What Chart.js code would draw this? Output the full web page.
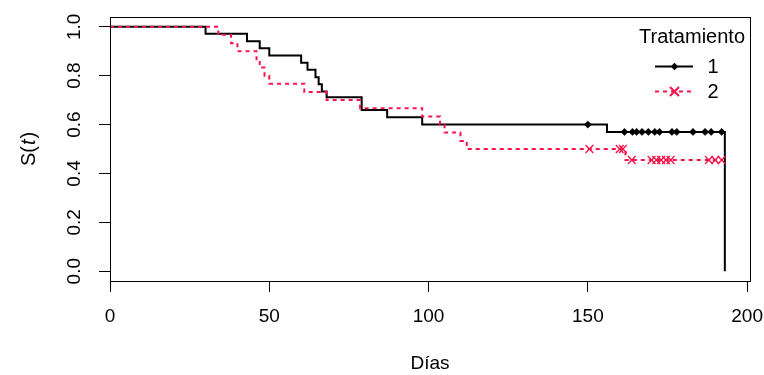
<!DOCTYPE html>
<html><head><meta charset="utf-8">
<script src="https://cdn.jsdelivr.net/npm/chart.js@4/dist/chart.umd.min.js"></script>
<style>html,body{margin:0;padding:0;background:#fff}#wrap{width:764px;height:375px;position:relative}</style>
</head><body><div id="wrap"><canvas id="c"></canvas></div>
<script>
// ---- data ----
const groupLabels = ['1', '2'];
const legendTitle = 'Tratamiento';
const xTitle = 'Días';
const yTitleMain = 'S(';
const yTitleItalic = 't';
const yTitleEnd = ')';
const xTicks = [0, 50, 100, 150, 200];
const yTicks = [0, 0.2, 0.4, 0.6, 0.8, 1.0];

// Treatment 1: event times and survival after each event
const times1 = [0, 30, 43, 47, 50, 60, 62, 64.5, 65.5, 66.5, 68, 79, 87, 98, 156, 193];
const surv1  = [1, 0.971, 0.941, 0.912, 0.882, 0.853, 0.824, 0.794, 0.765, 0.735, 0.712, 0.66, 0.63, 0.60, 0.57, 0];
const censor1 = [150, 161.5, 164, 165.3, 167, 169, 171, 172.5, 176.4, 177.9, 183, 186.8, 188.7, 192];

// Treatment 2
const times2 = [0, 34, 38, 40, 46, 47, 48.5, 50, 61, 68, 78.5, 98, 103.6, 105, 110, 112, 161.8];
const surv2  = [1, 0.967, 0.933, 0.9, 0.867, 0.833, 0.8, 0.767, 0.733, 0.7, 0.667, 0.633, 0.6, 0.567, 0.533, 0.5, 0.455];
const censor2 = [150.5, 160, 161, 163.8, 170, 171.5, 173, 174.5, 176, 188, 190, 192];
const lastTime2 = 192.5;

const colors = ['#000000', '#f8144a'];

// ---- helpers ----
function stepAt(times, surv, t) {
  let v = surv[0];
  for (let i = 0; i < times.length; i++) { if (times[i] <= t) v = surv[i]; }
  return v;
}
function stepPoints(times, surv, endT) {
  const pts = times.map((t, i) => ({x: t, y: surv[i]}));
  if (endT !== undefined) pts.push({x: endT, y: surv[surv.length - 1]});
  return pts;
}
function censorPoints(times, surv, cens) {
  return cens.map(t => ({x: t, y: stepAt(times, surv, t)}));
}

const FONT = "'Liberation Sans', Arial, Helvetica, sans-serif";

const boxPlugin = {
  id: 'boxAndText',
  afterDraw(chart) {
    const ctx = chart.ctx;
    const a = chart.chartArea;
    ctx.save();
    ctx.strokeStyle = '#000';
    ctx.lineWidth = 1;
    ctx.strokeRect(Math.round(a.left) + 0.5, Math.round(a.top) + 0.5, Math.round(a.right - a.left), Math.round(a.bottom - a.top));

    // y axis title S(t) with italic t
    const ys = chart.scales.y;
    const cy = (ys.getPixelForValue(ys.min) + ys.getPixelForValue(ys.max)) / 2;
    ctx.translate(29, cy);
    ctx.rotate(-Math.PI / 2);
    ctx.fillStyle = '#000';
    ctx.textBaseline = 'middle';
    const fN = '20px ' + FONT, fI = 'italic 20px ' + FONT;
    ctx.font = fN; const w1 = ctx.measureText(yTitleMain).width; const w3 = ctx.measureText(yTitleEnd).width;
    ctx.font = fI; const w2 = ctx.measureText(yTitleItalic).width + 2;
    let x0 = -(w1 + w2 + w3) / 2;
    ctx.textAlign = 'left';
    ctx.font = fN; ctx.fillText(yTitleMain, x0, 0);
    ctx.font = fI; ctx.fillText(yTitleItalic, x0 + w1 + 1, 0);
    ctx.font = fN; ctx.fillText(yTitleEnd, x0 + w1 + w2, 0);
    ctx.restore();

    // legend
    ctx.save();
    ctx.fillStyle = '#000';
    ctx.font = '20px ' + FONT;
    ctx.textAlign = 'right';
    ctx.textBaseline = 'middle';
    ctx.fillText(legendTitle, 745, 37);
    const rows = [66.5, 91.5];
    groupLabels.forEach((lab, i) => {
      const y = rows[i];
      ctx.strokeStyle = colors[i];
      ctx.lineWidth = 2;
      ctx.setLineDash(i === 0 ? [] : [4, 4]);
      ctx.beginPath(); ctx.moveTo(655, y); ctx.lineTo(693, y); ctx.stroke();
      ctx.setLineDash([]);
      const mx = 674.5;
      if (i === 0) {
        ctx.fillStyle = colors[0];
        ctx.beginPath(); ctx.moveTo(mx, y - 3.8); ctx.lineTo(mx + 3.8, y); ctx.lineTo(mx, y + 3.8); ctx.lineTo(mx - 3.8, y); ctx.closePath(); ctx.fill();
      } else {
        ctx.lineWidth = 2;
        const r = 4.5;
        ctx.beginPath(); ctx.moveTo(mx - r, y - r); ctx.lineTo(mx + r, y + r); ctx.moveTo(mx + r, y - r); ctx.lineTo(mx - r, y + r); ctx.stroke();
      }
      ctx.fillStyle = '#000';
      ctx.textAlign = 'center';
      ctx.fillText(lab, 713, y + 1);
    });
    ctx.restore();
  }
};

new Chart(document.getElementById('c'), {
  type: 'scatter',
  data: {
    datasets: [
      {label: groupLabels[0], data: stepPoints(times1, surv1), showLine: true, stepped: true,
       borderColor: colors[0], borderWidth: 2, pointRadius: 0, order: 3},
      {label: groupLabels[1], data: stepPoints(times2, surv2, lastTime2), showLine: true, stepped: true,
       borderColor: colors[1], borderWidth: 2, borderDash: [4, 4], pointRadius: 0, order: 2},
      {label: groupLabels[0] + ' censored', data: censorPoints(times1, surv1, censor1), showLine: false,
       pointStyle: 'rectRot', pointRadius: 3.6, backgroundColor: colors[0], borderColor: colors[0], borderWidth: 0.5, order: 1},
      {label: groupLabels[1] + ' censored', data: censorPoints(times2, surv2, censor2), showLine: false,
       pointStyle: 'crossRot', pointRadius: 5.5, borderColor: colors[1], borderWidth: 1.4, order: 0}
    ]
  },
  options: {
    responsive: true,
    maintainAspectRatio: false,
    animation: false,
    layout: {padding: {top: 17, right: 14, left: 0, bottom: 0}},
    plugins: {legend: {display: false}, tooltip: {enabled: false}},
    scales: {
      x: {
        type: 'linear', min: 0, max: 200.9,
        afterBuildTicks(s) { s.ticks = xTicks.map(v => ({value: v})); },
        afterFit(s) { s.height = 94; s.paddingLeft = 0; s.paddingRight = 0; },
        grid: {display: true, drawOnChartArea: false, drawTicks: true, tickLength: 11, color: '#000', lineWidth: 1},
        border: {display: false},
        ticks: {color: '#000', font: {family: FONT, size: 19}, padding: 13, maxRotation: 0, minRotation: 0},
        title: {display: true, text: xTitle, color: '#000', font: {family: FONT, size: 19}, padding: {top: 0, bottom: 0}}
      },
      y: {
        type: 'linear', min: -0.04, max: 1.04,
        afterBuildTicks(s) { s.ticks = yTicks.map(v => ({value: v})); },
        afterFit(s) { s.width = 110; s.paddingTop = 0; s.paddingBottom = 0; },
        grid: {display: true, drawOnChartArea: false, drawTicks: true, tickLength: 11, color: '#000', lineWidth: 1},
        border: {display: false},
        ticks: {color: '#000', font: {family: FONT, size: 19}, padding: 11, minRotation: 90, maxRotation: 90, crossAlign: 'center',
                callback: v => v.toFixed(1)}
      }
    }
  },
  plugins: [boxPlugin]
});
</script>
</body></html>
